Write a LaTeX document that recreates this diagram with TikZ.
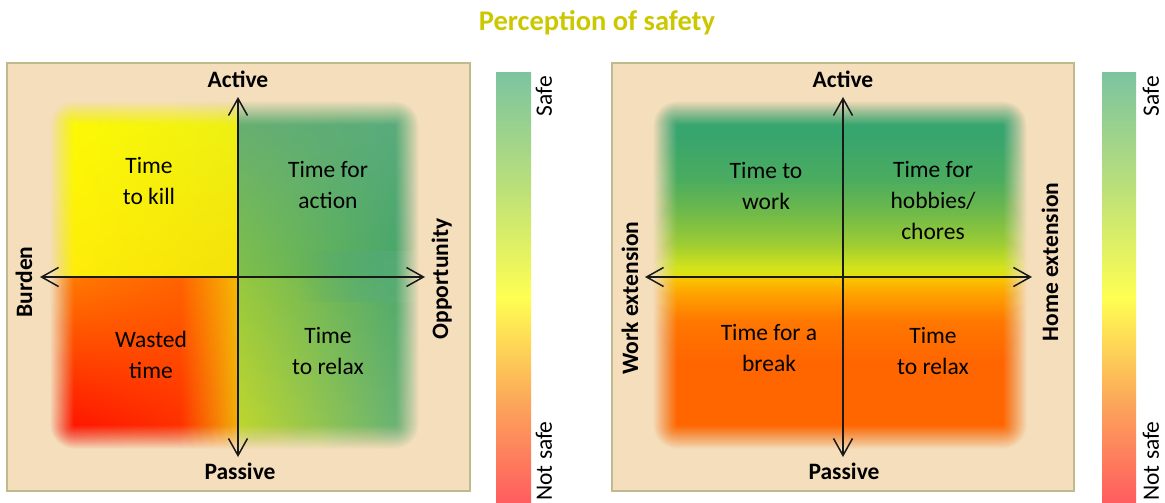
\documentclass[tikz,border=0pt]{standalone}
\usepackage{fontspec}
\setmainfont{Carlito}
\usetikzlibrary{arrows.meta,fadings,shadings}
\definecolor{bg}{RGB}{244,222,187}
\definecolor{panelborder}{RGB}{192,186,142}
\definecolor{axiscol}{RGB}{25,25,25}
\definecolor{titlecol}{RGB}{204,200,0}
% left panel quadrant corners
\definecolor{tlA}{RGB}{255,252,0}\definecolor{tlB}{RGB}{236,242,22}
\definecolor{tlC}{RGB}{255,238,10}\definecolor{tlD}{RGB}{245,225,8}
\definecolor{trA}{RGB}{98,172,118}\definecolor{trB}{RGB}{90,172,128}
\definecolor{trC}{RGB}{128,192,72}\definecolor{trD}{RGB}{62,162,108}
\definecolor{blA}{RGB}{255,125,0}\definecolor{blB}{RGB}{255,100,0}
\definecolor{blC}{RGB}{255,0,0}\definecolor{blD}{RGB}{255,40,0}
\definecolor{blE}{RGB}{244,185,5}\definecolor{blF}{RGB}{240,175,10}
\definecolor{brA}{RGB}{150,200,62}\definecolor{brB}{RGB}{72,165,112}
\definecolor{brC}{RGB}{196,216,44}\definecolor{brD}{RGB}{95,176,126}
\definecolor{bandA}{RGB}{85,170,120}\definecolor{bandB}{RGB}{48,158,104}
\definecolor{bandC}{RGB}{90,174,116}
% right panel vertical gradient
\definecolor{rg1}{RGB}{55,165,110}\definecolor{rg2}{RGB}{75,172,95}
\definecolor{rg3}{RGB}{115,187,72}\definecolor{rg4}{RGB}{160,205,50}
\definecolor{rg5}{RGB}{208,227,28}\definecolor{rg6}{RGB}{228,226,12}
\definecolor{rg7}{RGB}{248,200,0}\definecolor{rg8}{RGB}{254,165,0}
\definecolor{rg9}{RGB}{255,120,0}\definecolor{rg10}{RGB}{255,102,0}
% colour bar
\definecolor{barA}{RGB}{124,196,160}\definecolor{barB}{RGB}{185,223,122}
\definecolor{barC}{RGB}{255,255,82}\definecolor{barD}{RGB}{252,168,90}
\definecolor{barE}{RGB}{255,92,95}
\tikzfading[name=fromleft, left color=transparent!100, right color=transparent!0]
\newcommand\myblurframe[4]{%
  \foreach \k in {1,...,24}{%
    \pgfmathsetmacro\ee{\k-12.5}%
    \pgfmathsetmacro\op{1/(25-\k)}%
    \pgfmathsetmacro\rr{max(1,12+\ee)}%
    \fill[bg, opacity=\op, even odd rule] ({#1-13},{#2-13}) rectangle ({#3+13},{#4+13})
      [rounded corners=\rr pt] ({#1-\ee},{#2-\ee}) rectangle ({#3+\ee},{#4+\ee});
  }}
\newcommand\mybar[2]{%
  \shade[top color=barA, bottom color=barB] (#1,73) rectangle (#2,185.5);
  \shade[top color=barB, bottom color=barC] (#1,185) rectangle (#2,297.5);
  \shade[top color=barC, bottom color=barD] (#1,297) rectangle (#2,400.5);
  \shade[top color=barD, bottom color=barE] (#1,400) rectangle (#2,503);
}
\begin{document}
\begin{tikzpicture}[x=1pt,y=-1pt,
  panel/.style={draw=panelborder, line width=2pt, fill=bg},
  axis/.style={line width=1.5pt, draw=axiscol,
    {Straight Barb[length=17pt,width=19pt]}-{Straight Barb[length=17pt,width=19pt]}},
  quad/.style={font=\fontsize{23.5}{31}\selectfont, align=center, text=black},
  axlabel/.style={font=\bfseries\fontsize{23.5}{28}\selectfont, anchor=base, text=black},
  barlabel/.style={font=\fontsize{23.5}{28}\selectfont, rotate=90, text=black},
  titlestyle/.style={font=\bfseries\fontsize{28.5}{32}\selectfont, text=titlecol, anchor=base}]
\useasboundingbox (0,0) rectangle (1165,503);
\fill[white] (0,0) rectangle (1165,503);

% title
\node[titlestyle] (title) at (597,31) {Perception of safety};

% ---------- left panel ----------
\draw[panel] (7,63) rectangle (470,491);
\shade[upper left=tlA, upper right=tlB, lower left=tlC, lower right=tlD] (50,101) rectangle (238.5,277.5);
\shade[upper left=trA, upper right=trB, lower left=trC, lower right=trD] (238,101) rectangle (419,277.5);
\shade[upper left=blA, upper right=blB, lower left=blC, lower right=blD] (50,277) rectangle (180.5,449);
\shade[upper left=blB, upper right=blE, lower left=blD, lower right=blF] (180,277) rectangle (238.5,449);
\shade[upper left=brA, upper right=brB, lower left=brC, lower right=brD] (238,277) rectangle (419,449);
\shade[path fading=fromleft, top color=bandA, middle color=bandB, bottom color=bandC] (300,252) rectangle (419,302);
\myblurframe{62}{113}{407}{437}

\coordinate (LW) at (40,277);
\coordinate (LE) at (425,277);
\coordinate (LN) at (238,97);
\coordinate (LS) at (238,457);
\draw[axis] (LW) -- (LE);
\draw[axis] (LS) -- (LN);

\node[axlabel] (Lactive) at (238,88) {Active};
\node[axlabel] (Lpassive) at (240,479) {Passive};
\node[axlabel, rotate=90] (Lburden) at (32,282) {Burden};
\node[axlabel, rotate=90] (Lopp) at (448,279) {Opportunity};

\node[quad] (kill) at (149,181.5) {Time\\to kill};
\node[quad] (action) at (328,185.5) {Time for\\action};
\node[quad] (wasted) at (151,354.5) {Wasted\\time};
\node[quad] (relaxL) at (328,351) {Time\\to relax};

% left colour bar
\mybar{496}{531}
\node[barlabel] (safeL) at (544,96) {Safe};
\node[barlabel] (notsafeL) at (544,461) {Not safe};

% ---------- right panel ----------
\draw[panel] (612,63) rectangle (1074,491);
\fill[rg1] (653,101) rectangle (1027,135.5);
\shade[top color=rg1, bottom color=rg2] (653,135) rectangle (1027,180.5);
\shade[top color=rg2, bottom color=rg3] (653,180) rectangle (1027,215.5);
\shade[top color=rg3, bottom color=rg4] (653,215) rectangle (1027,245.5);
\shade[top color=rg4, bottom color=rg5] (653,245) rectangle (1027,266.5);
\shade[top color=rg5, bottom color=rg6] (653,266) rectangle (1027,277.5);
\shade[top color=rg7, bottom color=rg8] (653,277) rectangle (1027,292.5);
\shade[top color=rg8, bottom color=rg9] (653,292) rectangle (1027,320.5);
\shade[top color=rg9, bottom color=rg10] (653,320) rectangle (1027,360.5);
\fill[rg10] (653,360) rectangle (1027,449);
\myblurframe{665}{113}{1015}{437}

\coordinate (RW) at (645,277);
\coordinate (RE) at (1032,277);
\coordinate (RN) at (843,97);
\coordinate (RS) at (843,457);
\draw[axis] (RW) -- (RE);
\draw[axis] (RS) -- (RN);

\node[axlabel] (Ractive) at (843,88) {Active};
\node[axlabel] (Rpassive) at (844,479) {Passive};
\node[axlabel, rotate=90] (Rwork) at (638,298) {Work extension};
\node[axlabel, rotate=90] (Rhome) at (1058,262) {Home extension};

\node[quad] (work) at (766,185.5) {Time to\\work};
\node[quad] (hobbies) at (933,201) {Time for\\hobbies/\\chores};
\node[quad] (break) at (769,347.5) {Time for a\\break};
\node[quad] (relaxR) at (933,351) {Time\\to relax};

% right colour bar
\mybar{1102}{1136}
\node[barlabel] (safeR) at (1151,96) {Safe};
\node[barlabel] (notsafeR) at (1151,461) {Not safe};
\end{tikzpicture}
\end{document}
